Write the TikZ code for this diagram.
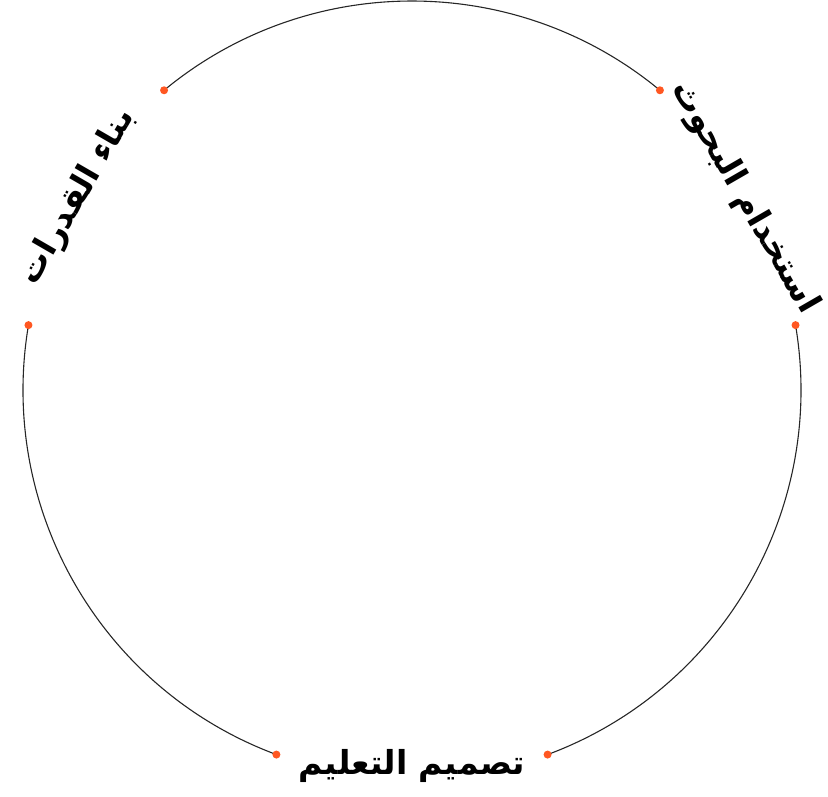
\documentclass[tikz,border=0pt]{standalone}
\usepackage{fontspec}
\newfontfamily\arabicfont[Script=Arabic]{DejaVu Sans}
\TeXXeTstate=1
\usetikzlibrary{positioning}
\definecolor{dotorange}{RGB}{255,87,34}

\begin{document}
\begin{tikzpicture}[x=1pt,y=1pt,
  ring/.style={line width=1.1pt,black!85},
  enddot/.style={circle,fill=dotorange,inner sep=0pt,minimum size=8pt},
  arlabel/.style={font=\arabicfont\bfseries\fontsize{33}{40}\selectfont,inner sep=0pt}]
\useasboundingbox (0,0) rectangle (828,797);
\path (412,407) coordinate (origin);
%%Now for the three arcs with a dot at each end
\foreach \s/\e/\n in {50.4/129.6/top, 170.4/249.6/left, 290.4/369.6/right}{
  \path (origin) +(\s:389) coordinate (\n-a);
  \path (origin) +(\e:389) coordinate (\n-b);
  \draw[ring] (\n-a) arc (\s:\e:389);
  \node[enddot] (\n-dota) at (\n-a) {};
  \node[enddot] (\n-dotb) at (\n-b) {};
}
%%finally the text in the gaps
\path (origin) +(30:384) node[arlabel,rotate=-60] (research) {\beginR استخدام البحوث\endR}
(origin) +(150:386) node[arlabel,rotate=60] (capacity) {\beginR بناء القدرات\endR}
(origin) +(270:376) node[arlabel] (design) {\beginR تصميم التعليم\endR};
\end{tikzpicture}
\end{document}
